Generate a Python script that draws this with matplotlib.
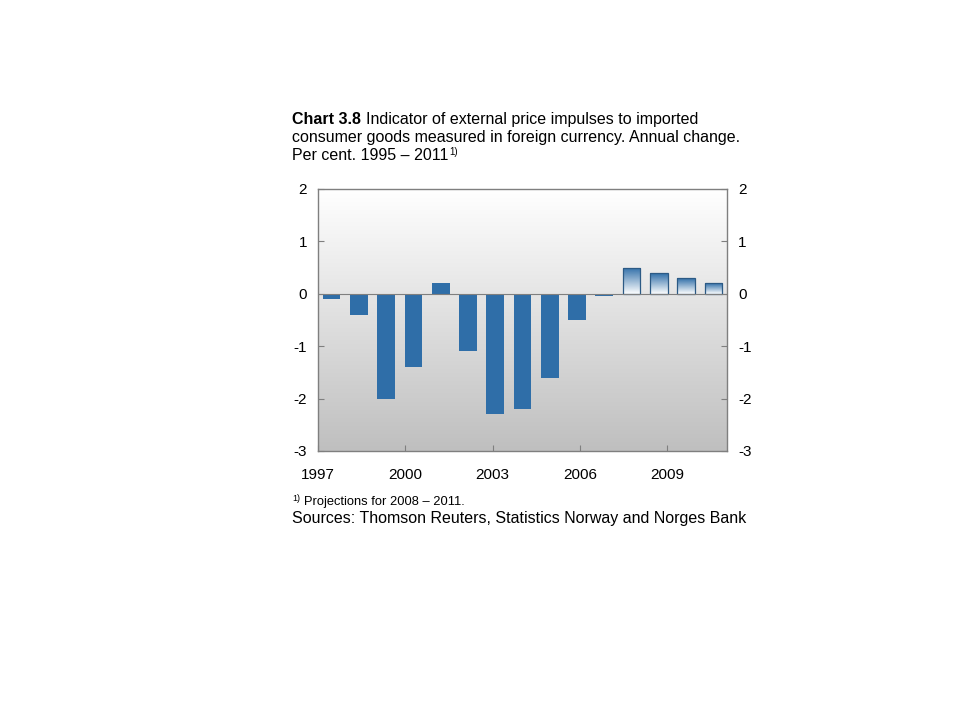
import numpy as np
import matplotlib.pyplot as plt
from matplotlib.colors import LinearSegmentedColormap

plt.rcParams['font.family'] = ['Liberation Sans', 'DejaVu Sans']
plt.rcParams['axes.unicode_minus'] = False

# data
years = [1997, 1998, 1999, 2000, 2001, 2002, 2003, 2004, 2005, 2006,
         2007, 2008, 2009, 2010, 2011]
change = [-0.1, -0.4, -2.0, -1.4, 0.2, -1.1, -2.3, -2.2, -1.6, -0.5,
          -0.05, 0.5, 0.4, 0.3, 0.2]
projected = [y >= 2008 for y in years]
year_ticks = [1997, 2000, 2003, 2006, 2009]
y_ticks = [-3, -2, -1, 0, 1, 2]

blue = '#2f6ea8'

fig = plt.figure(figsize=(9.6, 7.2), dpi=100)
ax = fig.add_axes([318 / 960, 269 / 720, 409 / 960, 262 / 720])

# grey gradient background
bg = np.linspace(0, 1, 256).reshape(-1, 1)
bg_cmap = LinearSegmentedColormap.from_list('bg', ['#ffffff', '#bfbfbf'])
ax.imshow(bg, cmap=bg_cmap, aspect='auto', extent=[0, 1, 0, 1],
          transform=ax.transAxes, zorder=0, origin='upper')

x = np.arange(len(years))
bars = ax.bar(x, change, width=0.65, color=blue, zorder=2, linewidth=0)

# projections: white-to-blue gradient with outline
bar_cmap = LinearSegmentedColormap.from_list('bar', ['#ffffff', blue])
grad = np.linspace(0, 1, 256).reshape(-1, 1)
for b, proj in zip(bars, projected):
    if not proj:
        continue
    b.set_facecolor('none')
    b.set_edgecolor('#2c5a85')
    b.set_linewidth(0.9)
    b.set_zorder(3)
    x0, y0 = b.get_x(), b.get_y()
    im = ax.imshow(grad, cmap=bar_cmap, aspect='auto', origin='lower',
                   extent=[x0, x0 + b.get_width(), y0, y0 + b.get_height()],
                   zorder=2)
    im.set_clip_path(b)

ax.axhline(0, color='#7f7f7f', lw=0.8, zorder=4)

ax.set_xlim(-0.5, len(years) - 0.5)
ax.set_ylim(-3, 2)
ax.set_xticks([])
ax.set_yticks(y_ticks)
ax.tick_params(axis='y', direction='in', length=4, width=0.8, color='#7f7f7f',
               labelsize=11, pad=8, left=True, right=True,
               labelleft=True, labelright=True)
for s in ax.spines.values():
    s.set_color('#7f7f7f')
    s.set_linewidth(1.0)
ax.set_zorder(1)

# year axis for the ticks at the bottom
axt = ax.twiny()
axt.set_xlim(1997, 2011.05)
axt.set_xticks(year_ticks)
axt.xaxis.set_ticks_position('bottom')
axt.xaxis.set_label_position('bottom')
axt.tick_params(axis='x', direction='in', length=4, width=0.8, color='#7f7f7f',
                labelsize=11, pad=12)
for s in axt.spines.values():
    s.set_visible(False)

# title
tx = 292 / 960
fs = 11.5
fig.canvas.draw()
r = fig.canvas.get_renderer()
t1 = fig.text(tx, (720 - 124) / 720, 'Chart 3.8', fontsize=fs,
              fontweight='bold', va='baseline')
bb = t1.get_window_extent(r)
fig.text((bb.x1 + 5) / 960, (720 - 124) / 720,
         'Indicator of external price impulses to imported',
         fontsize=fs, va='baseline')
fig.text(tx, (720 - 142) / 720,
         'consumer goods measured in foreign currency. Annual change.',
         fontsize=fs, va='baseline')
t3 = fig.text(tx, (720 - 160) / 720, 'Per cent. 1995 \u2013 2011',
              fontsize=fs, va='baseline')
bb = t3.get_window_extent(r)
fig.text((bb.x1 + 1) / 960, (720 - 155) / 720, '1)', fontsize=7,
         va='baseline')

# footnote and sources
fig.text(tx, (720 - 501) / 720, '1)', fontsize=6.5, va='baseline')
fig.text(304 / 960, (720 - 505) / 720, 'Projections for 2008 \u2013 2011.',
         fontsize=9.3, va='baseline')
fig.text(tx, (720 - 523) / 720,
         'Sources: Thomson Reuters, Statistics Norway and Norges Bank',
         fontsize=fs, va='baseline')

fig.savefig('out.png', dpi=100)
